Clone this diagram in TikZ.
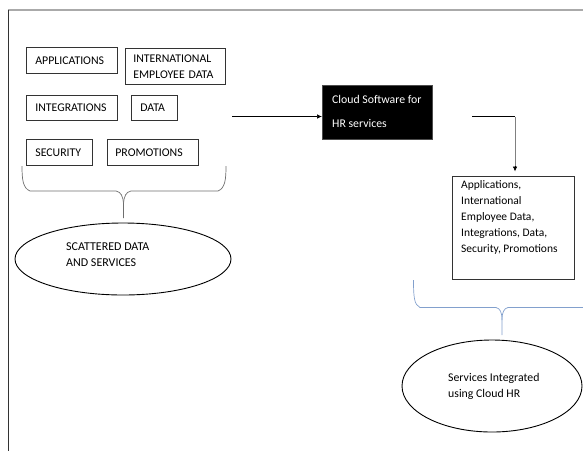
\documentclass[tikz,border=0pt]{standalone}
\usepackage{fontspec}
\setmainfont{Carlito}
\usetikzlibrary{shapes.geometric,arrows.meta}
\definecolor{bracegray}{RGB}{110,110,110}
\definecolor{braceblue}{RGB}{130,160,205}
\definecolor{framegray}{RGB}{170,170,170}
\tikzset{
  itembox/.style={draw=black!80, line width=0.7pt, anchor=north west, inner sep=0pt,
    font=\fontsize{11.8}{14}\selectfont, align=left},
  oval/.style={draw=black, line width=0.9pt, ellipse, inner sep=0pt},
  lbl/.style={anchor=west, align=left, inner sep=0pt, font=\fontsize{12}{15.5}\selectfont},
  conn/.style={line width=0.7pt, -{Latex[length=5pt,width=4.5pt]}},
}
\begin{document}
\begin{tikzpicture}[x=1pt,y=-1pt]
\useasboundingbox (0,0) rectangle (583,451);
% frame
\draw[framegray, line width=1.2pt] (8,10) -- (583,10);
\draw[black!80, line width=1pt] (8,10) -- (8,451);

% item boxes
\node[itembox, minimum width=91, minimum height=26, text width=73] (app) at (26,47) {APPLICATIONS};
\node[itembox, minimum width=100, minimum height=36, text width=84, font=\fontsize{11.8}{16}\selectfont] (intl) at (125,48) {INTERNATIONAL\\EMPLOYEE DATA};
\node[itembox, minimum width=91, minimum height=25, text width=73] (integ) at (26,95) {INTEGRATIONS};
\node[itembox, minimum width=46, minimum height=25, text width=28] (data) at (131,95) {DATA};
\node[itembox, minimum width=66, minimum height=26, text width=48] (sec) at (26,139) {SECURITY};
\node[itembox, minimum width=91, minimum height=26, text width=75] (promo) at (107,139) {PROMOTIONS};

% left brace
\draw[bracegray, line width=0.7pt] (22,166) .. controls (22,180) and (23,188) .. (30,191)
  -- (116,191) .. controls (121,192) and (123,196) .. (123.5,204) -- (123.5,218);
\draw[bracegray, line width=0.7pt] (226,166) .. controls (226,180) and (225,188) .. (218,191)
  -- (131,191) .. controls (126,192) and (124,196) .. (123.5,204);

% scattered ellipse
\node[oval, minimum width=216, minimum height=72] (scat) at (123,259) {};
\node[lbl] (scattxt) at (66,254.5) {SCATTERED DATA\\AND SERVICES};

% cloud box
\node[fill=black, draw=black!70, minimum width=110, minimum height=54, anchor=north west, inner sep=0pt] (cloud) at (322,85) {};
\node[anchor=west, align=left, inner sep=0pt, text=white, font=\fontsize{11.8}{24}\selectfont] (cloudtxt) at (332,111) {Cloud Software for\\HR services};

% connector into cloud box
\coordinate (inStart) at (232,116.5);
\draw[conn] (inStart) -- (inStart -| cloud.west);

% result box
\node[draw=black!80, line width=0.7pt, minimum width=122, minimum height=103, anchor=north west, inner sep=0pt] (res) at (452,176) {};
\node[anchor=north west, align=left, inner sep=0pt, font=\fontsize{11.5}{16}\selectfont] (restxt) at (461,180) {Applications,\\International\\Employee Data,\\Integrations, Data,\\Security, Promotions};

% connector to result box
\coordinate (outStart) at (472,116.5);
\coordinate (corner) at (515,116.5);
\draw[line width=0.7pt] (outStart) -- (corner);
\draw[black!50, line width=0.8pt] (corner) -- (515,169);
\draw[conn, black] (515,166) -- (515,171.5);

% blue brace
\draw[braceblue, line width=0.7pt] (413.5,280) .. controls (413.5,296) and (414,305) .. (420,307.5)
  -- (496,307.5) .. controls (500,308.5) and (502,312) .. (502,320) -- (502,335);
\draw[braceblue, line width=0.7pt] (583,307.5) -- (508,307.5) .. controls (504,308.5) and (502,312) .. (502,320);

% services ellipse
\node[oval, minimum width=180, minimum height=92] (serv) at (492,386) {};
\node[lbl, font=\fontsize{11.8}{16.5}\selectfont] (servtxt) at (448,386.5) {Services Integrated\\using Cloud HR};
\end{tikzpicture}
\end{document}
